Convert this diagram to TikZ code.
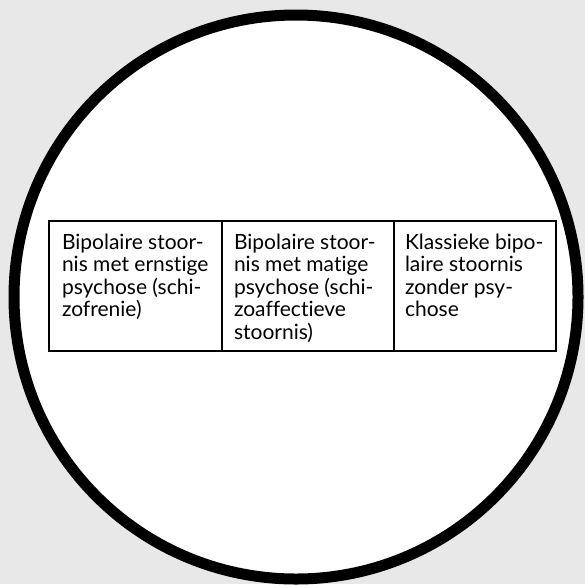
\documentclass[tikz,border=0pt]{standalone}
\usepackage{fontspec}
\setmainfont{Lato}[Ligatures={NoCommon}]
\definecolor{bggray}{HTML}{E8E8E8}
\begin{document}
\begin{tikzpicture}[x=1pt,y=-1pt,
  disc/.style={circle, draw=black, line width=11pt, fill=white, minimum size=564pt, inner sep=0pt, outer sep=0pt},
  cell/.style={rectangle, draw=black, line width=2pt, minimum height=130pt, inner sep=0pt, outer sep=0pt},
  celltext/.style={anchor=north west, inner sep=0pt, outer sep=0pt, align=left, font=\fontsize{21}{22.4}\selectfont}]
\fill[bggray] (0,0) rectangle (585,584);
\useasboundingbox (0,0) rectangle (585,584);
\begin{scope}
\clip (0,0) rectangle (585,584);
\node[disc] (disc) at (296,297) {};
\end{scope}
\node[cell, minimum width=173pt] (c1) at (135.5,286) {};
\node[cell, minimum width=172pt] (c2) at (308,286) {};
\node[cell, minimum width=162pt] (c3) at (475,286) {};
\node[celltext] (t1) at ([xshift=13pt,yshift=-13pt]c1.north west) {Bipolaire stoor-\\nis met ernstige\\psychose (schi-\\zofrenie)};
\node[celltext] (t2) at ([xshift=12pt,yshift=-13pt]c2.north west) {Bipolaire stoor-\\nis met matige\\psychose (schi-\\zoaffectieve\\stoornis)};
\node[celltext] (t3) at ([xshift=11pt,yshift=-13pt]c3.north west) {Klassieke bipo-\\laire stoornis\\zonder psy-\\chose};
\end{tikzpicture}
\end{document}
